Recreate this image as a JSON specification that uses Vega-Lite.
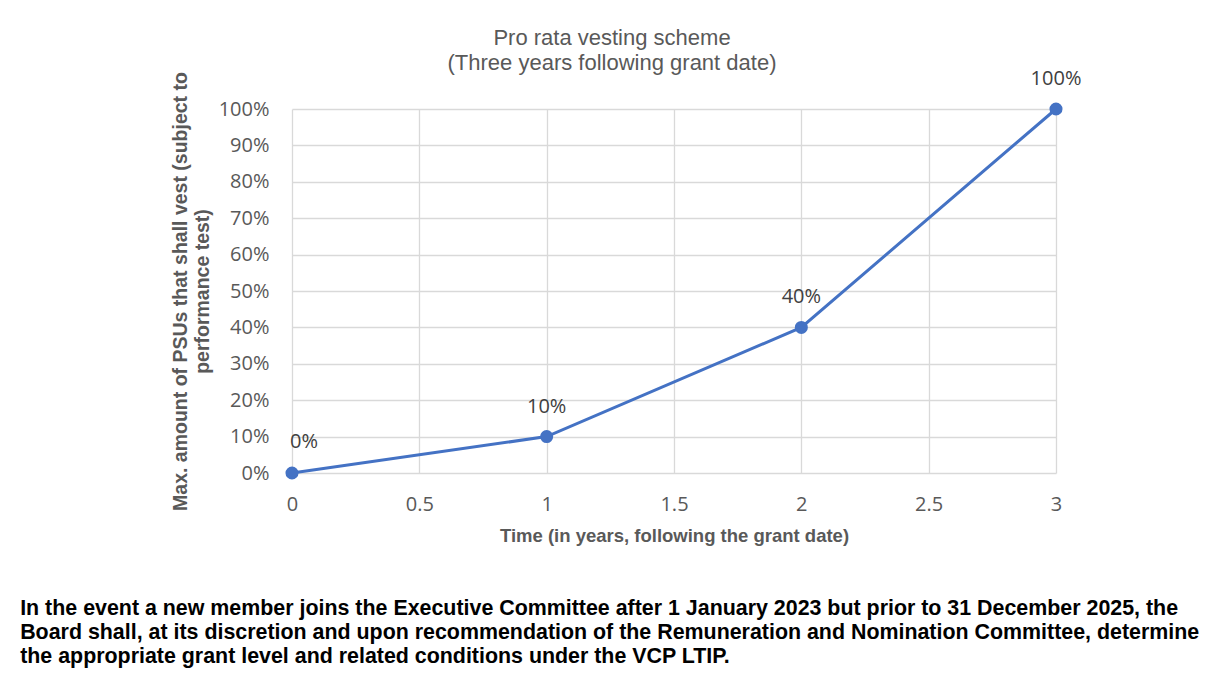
{
  "$schema": "https://vega.github.io/schema/vega-lite/v6.json",
  "background": "white",
  "padding": {"left": 20, "top": 27, "right": 5, "bottom": 5},
  "title": {
    "text": [
      "In the event a new member joins the Executive Committee after 1 January 2023 but prior to 31 December 2025, the",
      "Board shall, at its discretion and upon recommendation of the Remuneration and Nomination Committee, determine",
      "the appropriate grant level and related conditions under the VCP LTIP."
    ],
    "orient": "bottom",
    "anchor": "start",
    "dx": -150,
    "offset": 53,
    "font": "Liberation Sans",
    "fontSize": 21.4,
    "fontWeight": "bold",
    "color": "#000000",
    "lineHeight": 24
  },
  "vconcat": [
    {
      "width": 764,
      "height": 364,
      "title": {
        "text": ["Pro rata vesting scheme", "(Three years following grant date)"],
        "anchor": "middle",
        "dx": -62,
        "offset": -6,
        "font": "Liberation Sans",
        "fontSize": 22,
        "fontWeight": "normal",
        "color": "#595959",
        "lineHeight": 25
      },
      "data": {
        "values": [
          {"year": 0, "share": 0.0},
          {"year": 1, "share": 0.1},
          {"year": 2, "share": 0.4},
          {"year": 3, "share": 1.0}
        ]
      },
      "encoding": {
        "x": {
          "field": "year",
          "type": "quantitative",
          "scale": {"domain": [0, 3], "nice": false},
          "axis": {
            "values": [0, 0.5, 1, 1.5, 2, 2.5, 3],
            "format": "~g",
            "labelFlush": false,
            "title": "Time (in years, following the grant date)",
            "labelPadding": 21,
            "titlePadding": 12
          }
        },
        "y": {
          "field": "share",
          "type": "quantitative",
          "scale": {"domain": [0, 1], "nice": false},
          "axis": {
            "values": [0, 0.1, 0.2, 0.3, 0.4, 0.5, 0.6, 0.7, 0.8, 0.9, 1.0],
            "format": ".0%",
            "labelFlush": false,
            "title": ["Max. amount of PSUs that shall vest (subject to", "performance test)"],
            "titleFontSize": 19.5,
            "labelPadding": 23,
            "titlePadding": 6
          }
        }
      },
      "layer": [
        {
          "mark": {"type": "line", "color": "#4472C4", "strokeWidth": 3}
        },
        {
          "mark": {"type": "point", "filled": true, "color": "#4472C4", "size": 170, "opacity": 1}
        },
        {
          "transform": [{"filter": "datum.year > 0"}],
          "mark": {"type": "text", "dy": -24, "baseline": "alphabetic", "align": "center", "font": "Open Sans", "fontSize": 20, "color": "#404040"},
          "encoding": {"text": {"field": "share", "type": "quantitative", "format": ".0%"}}
        },
        {
          "transform": [{"filter": "datum.year == 0"}],
          "mark": {"type": "text", "dy": -25, "dx": -2, "baseline": "alphabetic", "align": "left", "font": "Open Sans", "fontSize": 20, "color": "#404040"},
          "encoding": {"text": {"field": "share", "type": "quantitative", "format": ".0%"}}
        }
      ]
    }
  ],
  "config": {
    "view": {"stroke": null},
    "axis": {
      "grid": true,
      "gridColor": "#d9d9d9",
      "gridWidth": 1.3,
      "domain": false,
      "ticks": false,
      "labelFont": "Open Sans",
      "labelFontSize": 20,
      "labelColor": "#595959",
      "titleFont": "Liberation Sans",
      "titleFontSize": 18.5,
      "titleFontWeight": "bold",
      "titleColor": "#595959",
      "titleLineHeight": 22
    }
  }
}
